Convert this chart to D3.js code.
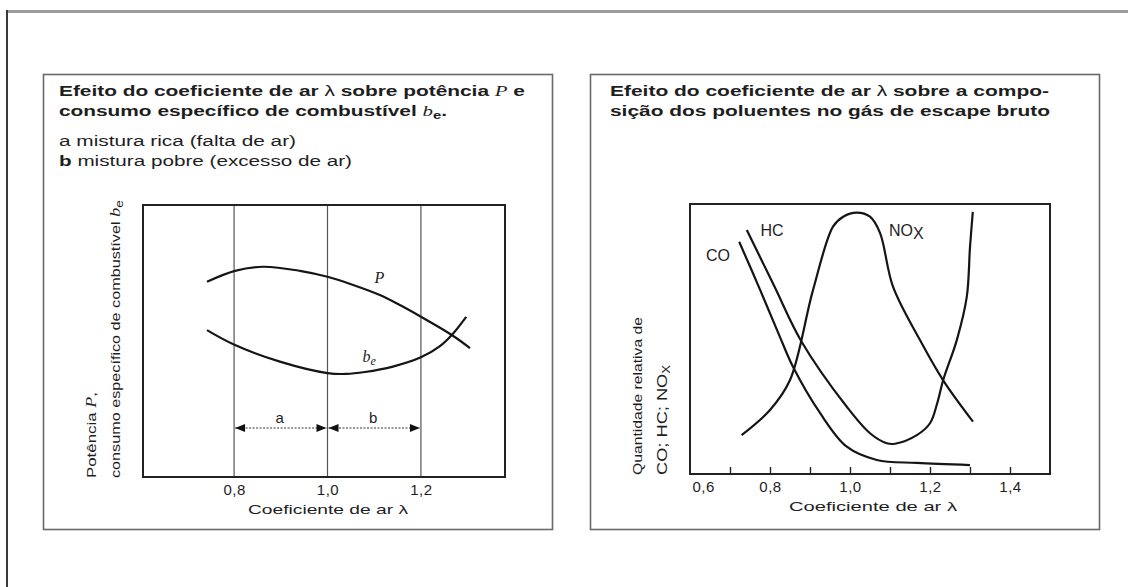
<!DOCTYPE html>
<html lang="pt">
<head>
<meta charset="UTF-8">
<script src="https://cdn.jsdelivr.net/npm/d3@7"></script>
<style>
  body { margin: 0; background: #fff; }
  text { font-family: "Liberation Sans", Arial, sans-serif; fill: #1e1e1e; }
  .ttl { font-weight: bold; font-size: 14px; }
  .it { font-family: "Liberation Serif", serif; font-style: italic; font-weight: normal; }
</style>
</head>
<body>
<svg id="chart" width="1128" height="587"></svg>
<script>
// left chart: power P and specific consumption b_e vs lambda
var leftLabels = [0.8, 1.0, 1.2];
var powerP = [[0.742, 71.8], [0.802, 75.8], [0.862, 77.3], [0.941, 75.8], [1.0, 73.6],
              [1.055, 70.6], [1.112, 66.9], [1.155, 63.2], [1.2, 58.9], [1.266, 52.2], [1.305, 47.4]];
var consBe = [[0.742, 54.0], [0.802, 48.5], [0.898, 42.4], [1.0, 38.2], [1.04, 37.9],
              [1.08, 38.6], [1.14, 40.6], [1.2, 44.0], [1.24, 48.0], [1.266, 52.2], [1.297, 58.9]];
var ranges = [['a', 0.8, 1.0], ['b', 1.0, 1.2]];

// right chart: pollutants vs lambda
var rightTicks = [0.7, 0.8, 0.9, 1.0, 1.1, 1.2, 1.3, 1.4];
var rightLabels = [0.6, 0.8, 1.0, 1.2, 1.4];
var coCurve = [[0.723, 86.0], [0.775, 68.3], [0.825, 50.7], [0.8575, 39.7], [0.925, 22.6],
               [0.992, 10.1], [1.067, 5.2], [1.167, 4.1], [1.3, 3.3]];
var hcCurve = [[0.742, 90.4], [0.81, 69.8], [0.879, 49.0], [0.992, 24.9], [1.05, 15.1],
               [1.092, 11.4], [1.1125, 11.2], [1.167, 14.4], [1.2, 18.8], [1.218, 26.2],
               [1.233, 34.8], [1.267, 49.6], [1.292, 65.7], [1.3, 84.0], [1.307, 97.1]];
var noxCurve = [[0.729, 14.4], [0.8, 23.7], [0.85, 34.8], [0.9075, 68.1], [0.9575, 91.6],
                [0.983, 95.3], [1.017, 96.8], [1.05, 95.3], [1.075, 89.3], [1.1075, 69.4],
                [1.175, 49.6], [1.2325, 34.8], [1.3075, 19.4]];

var svg = d3.select('#chart');
var comma = function(d) { return d3.format('.1f')(d).replace('.', ','); };

// outer page frame
svg.append('line').attr('x1', 6).attr('x2', 1128).attr('y1', 11.5).attr('y2', 11.5)
  .attr('stroke', '#9c9c9c').attr('stroke-width', 3);
svg.append('line').attr('x1', 7).attr('x2', 7).attr('y1', 10).attr('y2', 587)
  .attr('stroke', '#3a3a3a').attr('stroke-width', 2);

// panels
[[43.5, 552.5], [590.5, 1099.5]].forEach(function(p) {
  svg.append('rect').attr('x', p[0]).attr('y', 74.5).attr('width', p[1] - p[0]).attr('height', 455)
    .attr('fill', 'none').attr('stroke', '#6a6a6a').attr('stroke-width', 1.6);
});

var defs = svg.append('defs');
defs.append('marker').attr('id', 'ah').attr('viewBox', '0 0 10 8')
  .attr('refX', 10).attr('refY', 4).attr('markerWidth', 11).attr('markerHeight', 8)
  .attr('markerUnits', 'userSpaceOnUse').attr('orient', 'auto-start-reverse')
  .append('path').attr('d', 'M0,0 L10,4 L0,8 Z').attr('fill', '#111');

// ---------- left chart ----------
var xL = d3.scaleLinear().domain([0.605, 1.38]).range([143, 505]);
var yL = d3.scaleLinear().domain([0, 100]).range([477, 205]);
var gL = svg.append('g');

gL.selectAll('line.grid').data(leftLabels).enter().append('line').attr('class', 'grid')
  .attr('x1', d => xL(d)).attr('x2', d => xL(d)).attr('y1', yL(100)).attr('y2', yL(0))
  .attr('stroke', '#555').attr('stroke-width', 1.2);

gL.append('rect').attr('x', xL.range()[0]).attr('y', yL(100))
  .attr('width', xL.range()[1] - xL.range()[0]).attr('height', yL(0) - yL(100))
  .attr('fill', 'none').attr('stroke', '#222').attr('stroke-width', 2);

var axL = gL.append('g').attr('transform', 'translate(0,' + yL(0) + ')')
  .call(d3.axisBottom(xL).tickValues(leftLabels).tickSize(0).tickPadding(7).tickFormat(comma));
axL.select('.domain').remove();
axL.selectAll('text').style('font-size', '15px').style('letter-spacing', '0.5px').attr('fill', '#1e1e1e');

var lineL = d3.line().x(d => xL(d[0])).y(d => yL(d[1])).curve(d3.curveCatmullRom);
[powerP, consBe].forEach(function(s) {
  gL.append('path').datum(s).attr('d', lineL)
    .attr('fill', 'none').attr('stroke', '#151515').attr('stroke-width', 2.2);
});

gL.selectAll('line.rng').data(ranges).enter().append('line').attr('class', 'rng')
  .attr('x1', d => xL(d[1]) + 1).attr('x2', d => xL(d[2]) - 1).attr('y1', 428).attr('y2', 428)
  .attr('stroke', '#333').attr('stroke-width', 1.2).attr('stroke-dasharray', '2,1.5')
  .attr('marker-start', 'url(#ah)').attr('marker-end', 'url(#ah)');
gL.selectAll('text.rng').data(ranges).enter().append('text').attr('class', 'rng')
  .attr('x', d => (xL(d[1]) + xL(d[2])) / 2 - 1).attr('y', 423)
  .attr('text-anchor', 'middle').style('font-size', '15px').text(d => d[0]);

gL.append('text').attr('class', 'it').attr('x', xL(1.105) - 2).attr('y', 283)
  .style('font-size', '16px').text('P');
var beLbl = gL.append('text').attr('class', 'it').attr('x', xL(1.075)).attr('y', 362).style('font-size', '16px');
beLbl.append('tspan').text('b');
beLbl.append('tspan').attr('dy', 3).style('font-size', '12px').text('e');

gL.append('text').attr('x', 328).attr('y', 514).attr('text-anchor', 'middle')
  .attr('textLength', 160).attr('lengthAdjust', 'spacingAndGlyphs')
  .style('font-size', '13px').text('Coeficiente de ar  λ');

var yl1 = gL.append('text').attr('transform', 'translate(96,478) rotate(-90)')
  .attr('textLength', 86).attr('lengthAdjust', 'spacingAndGlyphs').style('font-size', '13px');
yl1.append('tspan').text('Potência ');
yl1.append('tspan').attr('class', 'it').style('font-size', '14px').text('P');
yl1.append('tspan').text(',');
var yl2 = gL.append('text').attr('transform', 'translate(120,478) rotate(-90)')
  .attr('textLength', 278).attr('lengthAdjust', 'spacingAndGlyphs').style('font-size', '13px');
yl2.append('tspan').text('consumo específico de combustível ');
yl2.append('tspan').attr('class', 'it').style('font-size', '15px').text('b');
yl2.append('tspan').attr('dy', 3).style('font-size', '11px').text('e');

var t1 = gL.append('text').attr('class', 'ttl').attr('x', 59).attr('y', 96)
  .attr('textLength', 466).attr('lengthAdjust', 'spacingAndGlyphs');
t1.append('tspan').text('Efeito do coeficiente de ar ');
t1.append('tspan').style('font-weight', 'normal').text('λ');
t1.append('tspan').text(' sobre potência ');
t1.append('tspan').attr('class', 'it').text('P');
t1.append('tspan').text(' e');
var t2 = gL.append('text').attr('class', 'ttl').attr('x', 59).attr('y', 116)
  .attr('textLength', 388).attr('lengthAdjust', 'spacingAndGlyphs');
t2.append('tspan').text('consumo específico de combustível ');
t2.append('tspan').attr('class', 'it').text('b');
t2.append('tspan').attr('dy', 3).style('font-size', '10px').text('e');
t2.append('tspan').attr('dy', -3).text('.');
gL.append('text').attr('x', 59).attr('y', 146).attr('textLength', 237).attr('lengthAdjust', 'spacingAndGlyphs')
  .style('font-size', '14px').text('a mistura rica (falta de ar)');
gL.append('text').attr('x', 59).attr('y', 166).attr('textLength', 293).attr('lengthAdjust', 'spacingAndGlyphs')
  .style('font-size', '14px').html('<tspan font-weight="bold">b</tspan> mistura pobre (excesso de ar)');

// ---------- right chart ----------
var xR = d3.scaleLinear().domain([0.6, 1.5]).range([690, 1050]);
var yR = d3.scaleLinear().domain([0, 100]).range([474, 204]);
var gR = svg.append('g');

gR.append('rect').attr('x', xR.range()[0]).attr('y', yR(100))
  .attr('width', xR.range()[1] - xR.range()[0]).attr('height', yR(0) - yR(100))
  .attr('fill', 'none').attr('stroke', '#222').attr('stroke-width', 2);

var tk = gR.append('g').attr('transform', 'translate(0,' + yR(0) + ')')
  .call(d3.axisBottom(xR).tickValues(rightTicks).tickSizeInner(-7).tickSizeOuter(0).tickFormat(''));
tk.select('.domain').remove();
tk.selectAll('line').attr('stroke', '#222').attr('stroke-width', 1.4);

var lb = gR.append('g').attr('transform', 'translate(0,' + yR(0) + ')')
  .call(d3.axisBottom(xR).tickValues(rightLabels).tickSize(0).tickPadding(7).tickFormat(comma));
lb.select('.domain').remove();
lb.selectAll('text').style('font-size', '15px').style('letter-spacing', '0.5px').attr('fill', '#1e1e1e')
  .attr('text-anchor', (d, i) => i === 0 ? 'start' : 'middle')
  .attr('x', (d, i) => i === 0 ? 2 : 0);

var lineR = d3.line().x(d => xR(d[0])).y(d => yR(d[1])).curve(d3.curveCatmullRom);
[coCurve, hcCurve, noxCurve].forEach(function(s) {
  gR.append('path').datum(s).attr('d', lineR)
    .attr('fill', 'none').attr('stroke', '#151515').attr('stroke-width', 2.2);
});

gR.append('text').attr('x', 718).attr('y', 261).attr('text-anchor', 'middle').style('font-size', '16px').text('CO');
gR.append('text').attr('x', 772).attr('y', 236).attr('text-anchor', 'middle').style('font-size', '16px').text('HC');
var nx = gR.append('text').attr('x', 889).attr('y', 236).style('font-size', '16px');
nx.append('tspan').text('NO');
nx.append('tspan').attr('dy', 3).text('X');

gR.append('text').attr('x', 873).attr('y', 511).attr('text-anchor', 'middle')
  .attr('textLength', 168).attr('lengthAdjust', 'spacingAndGlyphs')
  .style('font-size', '13px').text('Coeficiente de ar  λ');

gR.append('text').attr('transform', 'translate(642,475) rotate(-90)')
  .attr('textLength', 158).attr('lengthAdjust', 'spacingAndGlyphs')
  .style('font-size', '13px').text('Quantidade relativa de');
var yr2 = gR.append('text').attr('transform', 'translate(667,475) rotate(-90)')
  .attr('textLength', 110).attr('lengthAdjust', 'spacingAndGlyphs').style('font-size', '14px');
yr2.append('tspan').text('CO; HC; NO');
yr2.append('tspan').attr('dy', 3).style('font-size', '10px').text('X');

gR.append('text').attr('class', 'ttl').attr('x', 610).attr('y', 96)
  .attr('textLength', 439).attr('lengthAdjust', 'spacingAndGlyphs')
  .html('Efeito do coeficiente de ar <tspan font-weight="normal">λ</tspan> sobre a compo-');
gR.append('text').attr('class', 'ttl').attr('x', 610).attr('y', 116)
  .attr('textLength', 440).attr('lengthAdjust', 'spacingAndGlyphs')
  .text('sição dos poluentes no gás de escape bruto');
</script>
</body>
</html>
